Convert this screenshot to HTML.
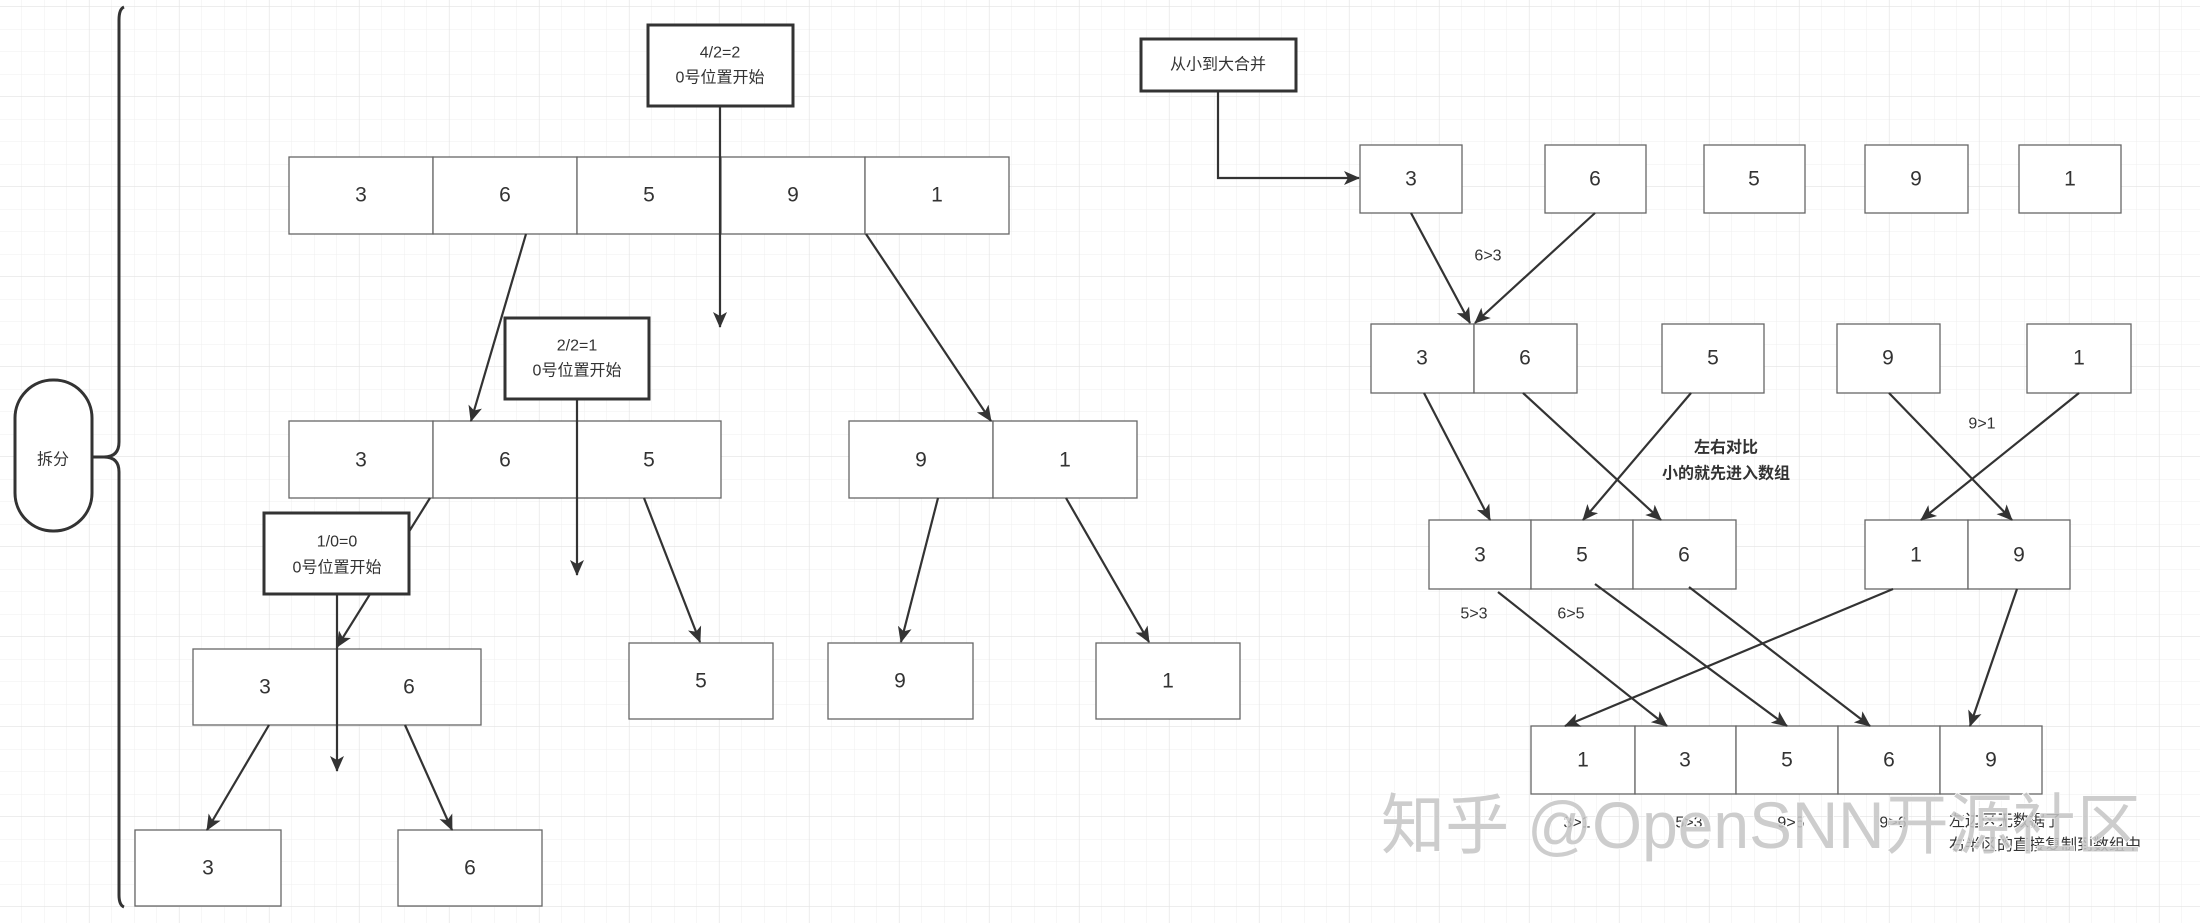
<!DOCTYPE html>
<html><head><meta charset="utf-8"><style>
html,body{margin:0;padding:0;background:#fff;}
svg{display:block;}
text{font-family:"Liberation Sans","Noto Sans CJK SC",sans-serif;fill:#333;}
.n{font-size:21px;text-anchor:middle;dominant-baseline:central;}
.l{font-size:16px;text-anchor:middle;dominant-baseline:central;}
.b{fill:#fff;stroke:#666;stroke-width:1.3;}
.t{fill:#fff;stroke:#333;stroke-width:3;}
.a{stroke:#333;stroke-width:2.2;fill:none;marker-end:url(#ar);}
</style></head><body>
<svg width="2200" height="923" viewBox="0 0 2200 923" xmlns="http://www.w3.org/2000/svg">
<defs>
<pattern id="g" x="-0.5" y="7" width="22.5" height="22.5" patternUnits="userSpaceOnUse">
<path d="M22.5 0V22.5M0 22.5H22.5" stroke="#efefef" stroke-width="1" fill="none"/></pattern>
<pattern id="G" x="-0.5" y="7" width="90" height="90" patternUnits="userSpaceOnUse">
<path d="M90 0V90M0 90H90" stroke="#e2e2e2" stroke-width="1.2" fill="none"/></pattern>
<marker id="ar" markerWidth="10" markerHeight="10" refX="9" refY="5" orient="auto" markerUnits="userSpaceOnUse" viewBox="0 0 10 10">
<path d="M0 0L10 5L0 10L3 5Z" fill="#333"/></marker>
<marker id="ar2" markerWidth="16" markerHeight="16" refX="15" refY="8" orient="auto" markerUnits="userSpaceOnUse" viewBox="0 0 16 16">
<path d="M0 1L16 8L0 15L4 8Z" fill="#333"/></marker>
</defs>
<style>.a{marker-end:url(#ar2);}</style>
<rect width="2200" height="923" fill="#fff"/>
<rect width="2200" height="923" fill="url(#g)"/>
<rect width="2200" height="923" fill="url(#G)"/>

<!-- brace and pill -->
<path d="M124 7 Q119 9 119 20 V442 Q119 457 104 457 H92 M92 457 H104 Q119 457 119 472 V895 Q119 905 124 907" stroke="#333" stroke-width="3" fill="none"/>
<rect x="15" y="380" width="77" height="151" rx="38" ry="38" fill="#fff" stroke="#333" stroke-width="3"/>
<text class="l" x="53" y="460">拆分</text>

<!-- left tree -->
<g>
<rect class="b" x="289" y="157" width="144" height="77"/><text class="n" x="361" y="195">3</text>
<rect class="b" x="433" y="157" width="144" height="77"/><text class="n" x="505" y="195">6</text>
<rect class="b" x="577" y="157" width="144" height="77"/><text class="n" x="649" y="195">5</text>
<rect class="b" x="721" y="157" width="144" height="77"/><text class="n" x="793" y="195">9</text>
<rect class="b" x="865" y="157" width="144" height="77"/><text class="n" x="937" y="195">1</text>

<rect class="b" x="289" y="421" width="144" height="77"/><text class="n" x="361" y="460">3</text>
<rect class="b" x="433" y="421" width="144" height="77"/><text class="n" x="505" y="460">6</text>
<rect class="b" x="577" y="421" width="144" height="77"/><text class="n" x="649" y="460">5</text>
<rect class="b" x="849" y="421" width="144" height="77"/><text class="n" x="921" y="460">9</text>
<rect class="b" x="993" y="421" width="144" height="77"/><text class="n" x="1065" y="460">1</text>

<rect class="b" x="193" y="649" width="144" height="76"/><text class="n" x="265" y="687">3</text>
<rect class="b" x="337" y="649" width="144" height="76"/><text class="n" x="409" y="687">6</text>
<rect class="b" x="629" y="643" width="144" height="76"/><text class="n" x="701" y="681">5</text>
<rect class="b" x="828" y="643" width="145" height="76"/><text class="n" x="900" y="681">9</text>
<rect class="b" x="1096" y="643" width="144" height="76"/><text class="n" x="1168" y="681">1</text>

<rect class="b" x="135" y="830" width="146" height="76"/><text class="n" x="208" y="868">3</text>
<rect class="b" x="398" y="830" width="144" height="76"/><text class="n" x="470" y="868">6</text>

<line class="a" x1="526" y1="234" x2="471" y2="421"/>
<line class="a" x1="866" y1="234" x2="991" y2="421"/>
<line class="a" x1="430" y1="498" x2="337" y2="647"/>
<line class="a" x1="644" y1="498" x2="700" y2="642"/>
<line class="a" x1="938" y1="498" x2="901" y2="642"/>
<line class="a" x1="1066" y1="498" x2="1149" y2="642"/>
<line class="a" x1="269" y1="725" x2="207" y2="830"/>
<line class="a" x1="405" y1="725" x2="452" y2="830"/>

<rect class="t" x="648" y="25" width="145" height="81"/>
<text class="l" x="720" y="53">4/2=2</text><text class="l" x="720" y="78">0号位置开始</text>
<line class="a" x1="720" y1="106" x2="720" y2="327"/>
<rect class="t" x="505" y="318" width="144" height="81"/>
<text class="l" x="577" y="346">2/2=1</text><text class="l" x="577" y="371">0号位置开始</text>
<line class="a" x1="577" y1="399" x2="577" y2="575"/>
<rect class="t" x="264" y="513" width="145" height="81"/>
<text class="l" x="337" y="542">1/0=0</text><text class="l" x="337" y="568">0号位置开始</text>
<line class="a" x1="337" y1="594" x2="337" y2="771"/>
</g>

<!-- right tree -->
<g>
<rect class="t" x="1141" y="39" width="155" height="52"/>
<text class="l" x="1218" y="65">从小到大合并</text>
<path class="a" d="M1218 91 V178 H1359"/>

<rect class="b" x="1360" y="145" width="102" height="68"/><text class="n" x="1411" y="179">3</text>
<rect class="b" x="1545" y="145" width="101" height="68"/><text class="n" x="1595" y="179">6</text>
<rect class="b" x="1704" y="145" width="101" height="68"/><text class="n" x="1754" y="179">5</text>
<rect class="b" x="1865" y="145" width="103" height="68"/><text class="n" x="1916" y="179">9</text>
<rect class="b" x="2019" y="145" width="102" height="68"/><text class="n" x="2070" y="179">1</text>

<rect class="b" x="1371" y="324" width="103" height="69"/><text class="n" x="1422" y="358">3</text>
<rect class="b" x="1474" y="324" width="103" height="69"/><text class="n" x="1525" y="358">6</text>
<rect class="b" x="1662" y="324" width="102" height="69"/><text class="n" x="1713" y="358">5</text>
<rect class="b" x="1837" y="324" width="103" height="69"/><text class="n" x="1888" y="358">9</text>
<rect class="b" x="2027" y="324" width="104" height="69"/><text class="n" x="2079" y="358">1</text>

<rect class="b" x="1429" y="520" width="102" height="69"/><text class="n" x="1480" y="555">3</text>
<rect class="b" x="1531" y="520" width="102" height="69"/><text class="n" x="1582" y="555">5</text>
<rect class="b" x="1633" y="520" width="103" height="69"/><text class="n" x="1684" y="555">6</text>
<rect class="b" x="1865" y="520" width="103" height="69"/><text class="n" x="1916" y="555">1</text>
<rect class="b" x="1968" y="520" width="102" height="69"/><text class="n" x="2019" y="555">9</text>

<rect class="b" x="1531" y="726" width="104" height="68"/><text class="n" x="1583" y="760">1</text>
<rect class="b" x="1635" y="726" width="101" height="68"/><text class="n" x="1685" y="760">3</text>
<rect class="b" x="1736" y="726" width="102" height="68"/><text class="n" x="1787" y="760">5</text>
<rect class="b" x="1838" y="726" width="102" height="68"/><text class="n" x="1889" y="760">6</text>
<rect class="b" x="1940" y="726" width="102" height="68"/><text class="n" x="1991" y="760">9</text>

<line class="a" x1="1411" y1="213" x2="1470" y2="323"/>
<line class="a" x1="1595" y1="213" x2="1475" y2="323"/>
<text class="l" x="1488" y="256">6&gt;3</text>

<line class="a" x1="1424" y1="393" x2="1490" y2="520"/>
<line class="a" x1="1523" y1="393" x2="1661" y2="520"/>
<line class="a" x1="1691" y1="393" x2="1583" y2="520"/>
<line class="a" x1="1889" y1="393" x2="2012" y2="520"/>
<line class="a" x1="2079" y1="393" x2="1921" y2="520"/>
<text class="l" x="1982" y="424">9&gt;1</text>
<text class="l" x="1726" y="448" style="font-weight:bold">左右对比</text>
<text class="l" x="1726" y="474" style="font-weight:bold">小的就先进入数组</text>

<line class="a" x1="1498" y1="592" x2="1667" y2="726"/>
<line class="a" x1="1595" y1="584" x2="1787" y2="726"/>
<line class="a" x1="1689" y1="587" x2="1870" y2="726"/>
<line class="a" x1="1893" y1="589" x2="1565" y2="726"/>
<line class="a" x1="2017" y1="589" x2="1970" y2="726"/>
<text class="l" x="1474" y="614">5&gt;3</text>
<text class="l" x="1571" y="614">6&gt;5</text>

<text class="l" x="1577" y="823">3&gt;1</text>
<text class="l" x="1689" y="823">5&gt;3</text>
<text class="l" x="1791" y="823">9&gt;5</text>
<text class="l" x="1893" y="823">9&gt;6</text>
<text style="font-size:16px" x="1949" y="826">左边区无数据了</text>
<text style="font-size:16px" x="1949" y="850">右半区的直接复制到数组中</text>

<text x="1381" y="848" style="font-size:66px;fill:#c4c4c4;fill-opacity:0.85;stroke:#fff;stroke-width:1.5;paint-order:stroke" textLength="760" lengthAdjust="spacingAndGlyphs">知乎 @OpenSNN开源社区</text>
</g>
</svg>
</body></html>
